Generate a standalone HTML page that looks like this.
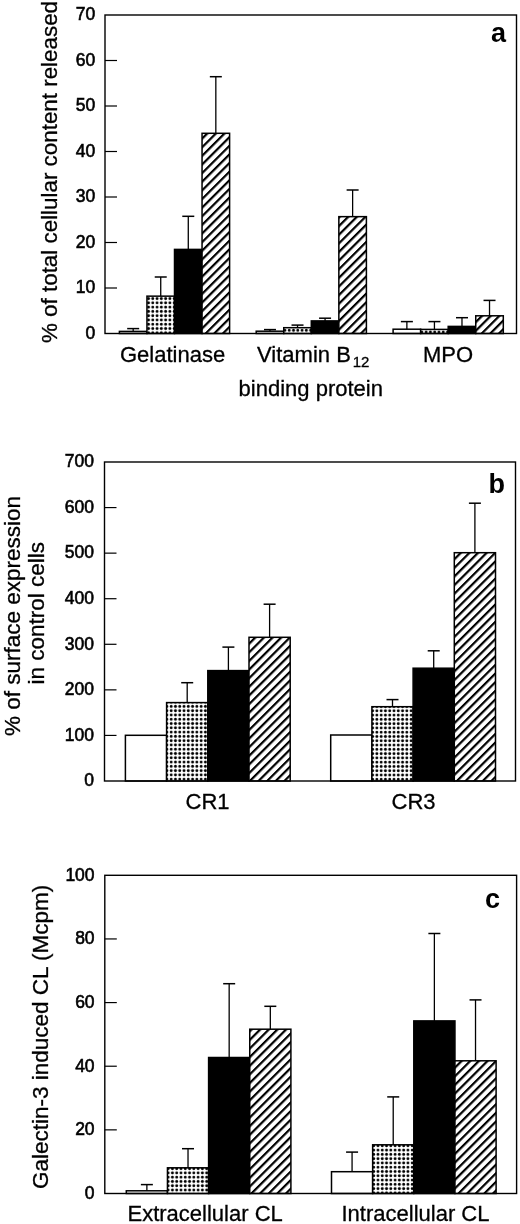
<!DOCTYPE html>
<html><head><meta charset="utf-8"><style>
html,body{margin:0;padding:0;background:#fff;}
body{width:520px;height:1224px;overflow:hidden;}
svg{display:block;will-change:transform;}
text{font-family:"Liberation Sans", sans-serif;fill:#000;stroke:#000;stroke-width:0.3px;}
.tk{stroke-width:0.6px;}
.lt{stroke-width:0;}
</style></head><body>
<svg width="520" height="1224" viewBox="0 0 520 1224">
<rect width="520" height="1224" fill="#fff"/>
<defs>
<pattern id="dots" patternUnits="userSpaceOnUse" width="4.28" height="4.28" x="0" y="0">
<circle cx="2.14" cy="2.14" r="1.45" fill="#000"/>
</pattern>
<pattern id="hatch" patternUnits="userSpaceOnUse" width="6.1" height="6.1" patternTransform="translate(2.75,0) rotate(45)">
<rect x="0" y="0" width="2.2" height="6.1" fill="#000"/>
</pattern>
</defs>
<rect x="119.4" y="331.4" width="27.55" height="2.1" fill="#fff" stroke="#000" stroke-width="1.5"/>
<line x1="133.18" y1="331.4" x2="133.18" y2="328.6" stroke="#000" stroke-width="1.3"/>
<line x1="127.18" y1="328.6" x2="139.18" y2="328.6" stroke="#000" stroke-width="1.5"/>
<pattern id="d1" patternUnits="userSpaceOnUse" width="4.28" height="4.28" x="146.36" y="296.41"><circle cx="2.14" cy="2.14" r="1.45" fill="#000"/></pattern>
<rect x="146.95" y="296.15" width="27.55" height="37.35" fill="#fff"/>
<rect x="146.95" y="296.15" width="27.55" height="37.35" fill="url(#d1)" stroke="#000" stroke-width="1.5"/>
<line x1="160.73" y1="296.15" x2="160.73" y2="277" stroke="#000" stroke-width="1.3"/>
<line x1="154.73" y1="277" x2="166.73" y2="277" stroke="#000" stroke-width="1.5"/>
<rect x="174.5" y="249.4" width="27.55" height="84.1" fill="#000" stroke="#000" stroke-width="1.5"/>
<line x1="188.28" y1="249.4" x2="188.28" y2="216.3" stroke="#000" stroke-width="1.3"/>
<line x1="182.28" y1="216.3" x2="194.28" y2="216.3" stroke="#000" stroke-width="1.5"/>
<rect x="202.05" y="133.3" width="27.55" height="200.2" fill="#fff"/>
<rect x="202.05" y="133.3" width="27.55" height="200.2" fill="url(#hatch)" stroke="#000" stroke-width="1.5"/>
<line x1="215.83" y1="133.3" x2="215.83" y2="76.7" stroke="#000" stroke-width="1.3"/>
<line x1="209.83" y1="76.7" x2="221.83" y2="76.7" stroke="#000" stroke-width="1.5"/>
<rect x="256.2" y="331.2" width="27.55" height="2.3" fill="#fff" stroke="#000" stroke-width="1.5"/>
<line x1="269.97" y1="331.2" x2="269.97" y2="329.6" stroke="#000" stroke-width="1.3"/>
<line x1="263.97" y1="329.6" x2="275.97" y2="329.6" stroke="#000" stroke-width="1.5"/>
<pattern id="d2" patternUnits="userSpaceOnUse" width="4.28" height="4.28" x="282.81" y="328.16"><circle cx="2.14" cy="2.14" r="1.45" fill="#000"/></pattern>
<rect x="283.75" y="327.7" width="27.55" height="5.8" fill="#fff"/>
<rect x="283.75" y="327.7" width="27.55" height="5.8" fill="url(#d2)" stroke="#000" stroke-width="1.5"/>
<line x1="297.52" y1="327.7" x2="297.52" y2="325.1" stroke="#000" stroke-width="1.3"/>
<line x1="291.52" y1="325.1" x2="303.52" y2="325.1" stroke="#000" stroke-width="1.5"/>
<rect x="311.3" y="320.9" width="27.55" height="12.6" fill="#000" stroke="#000" stroke-width="1.5"/>
<line x1="325.07" y1="320.9" x2="325.07" y2="318.2" stroke="#000" stroke-width="1.3"/>
<line x1="319.07" y1="318.2" x2="331.07" y2="318.2" stroke="#000" stroke-width="1.5"/>
<rect x="338.85" y="216.65" width="27.55" height="116.85" fill="#fff"/>
<rect x="338.85" y="216.65" width="27.55" height="116.85" fill="url(#hatch)" stroke="#000" stroke-width="1.5"/>
<line x1="352.62" y1="216.65" x2="352.62" y2="190" stroke="#000" stroke-width="1.3"/>
<line x1="346.62" y1="190" x2="358.62" y2="190" stroke="#000" stroke-width="1.5"/>
<rect x="393.1" y="329.2" width="27.55" height="4.3" fill="#fff" stroke="#000" stroke-width="1.5"/>
<line x1="406.88" y1="329.2" x2="406.88" y2="321.6" stroke="#000" stroke-width="1.3"/>
<line x1="400.88" y1="321.6" x2="412.88" y2="321.6" stroke="#000" stroke-width="1.5"/>
<pattern id="d3" patternUnits="userSpaceOnUse" width="4.28" height="4.28" x="419.71" y="329.86"><circle cx="2.14" cy="2.14" r="1.45" fill="#000"/></pattern>
<rect x="420.65" y="329.4" width="27.55" height="4.1" fill="#fff"/>
<rect x="420.65" y="329.4" width="27.55" height="4.1" fill="url(#d3)" stroke="#000" stroke-width="1.5"/>
<line x1="434.43" y1="329.4" x2="434.43" y2="321.6" stroke="#000" stroke-width="1.3"/>
<line x1="428.43" y1="321.6" x2="440.43" y2="321.6" stroke="#000" stroke-width="1.5"/>
<rect x="448.2" y="326.4" width="27.55" height="7.1" fill="#000" stroke="#000" stroke-width="1.5"/>
<line x1="461.98" y1="326.4" x2="461.98" y2="317.7" stroke="#000" stroke-width="1.3"/>
<line x1="455.98" y1="317.7" x2="467.98" y2="317.7" stroke="#000" stroke-width="1.5"/>
<rect x="475.75" y="315.8" width="27.55" height="17.7" fill="#fff"/>
<rect x="475.75" y="315.8" width="27.55" height="17.7" fill="url(#hatch)" stroke="#000" stroke-width="1.5"/>
<line x1="489.52" y1="315.8" x2="489.52" y2="300.4" stroke="#000" stroke-width="1.3"/>
<line x1="483.52" y1="300.4" x2="495.52" y2="300.4" stroke="#000" stroke-width="1.5"/>
<rect x="105" y="15" width="411.5" height="318.5" fill="none" stroke="#000" stroke-width="1.4"/>
<line x1="105" y1="288" x2="117" y2="288" stroke="#000" stroke-width="1.2"/>
<line x1="105" y1="242.5" x2="117" y2="242.5" stroke="#000" stroke-width="1.2"/>
<line x1="105" y1="197" x2="117" y2="197" stroke="#000" stroke-width="1.2"/>
<line x1="105" y1="151.5" x2="117" y2="151.5" stroke="#000" stroke-width="1.2"/>
<line x1="105" y1="106" x2="117" y2="106" stroke="#000" stroke-width="1.2"/>
<line x1="105" y1="60.5" x2="117" y2="60.5" stroke="#000" stroke-width="1.2"/>
<text x="95.2" y="338.8" text-anchor="end" font-size="17.5" class="tk">0</text>
<text x="95.2" y="293.3" text-anchor="end" font-size="17.5" class="tk">10</text>
<text x="95.2" y="247.8" text-anchor="end" font-size="17.5" class="tk">20</text>
<text x="95.2" y="202.3" text-anchor="end" font-size="17.5" class="tk">30</text>
<text x="95.2" y="156.8" text-anchor="end" font-size="17.5" class="tk">40</text>
<text x="95.2" y="111.3" text-anchor="end" font-size="17.5" class="tk">50</text>
<text x="95.2" y="65.8" text-anchor="end" font-size="17.5" class="tk">60</text>
<text x="95.2" y="20.3" text-anchor="end" font-size="17.5" class="tk">70</text>
<text x="491" y="42" font-size="27" font-weight="bold" class="lt">a</text>
<rect x="125.4" y="735.3" width="41.2" height="45.7" fill="#fff" stroke="#000" stroke-width="1.5"/>
<pattern id="d4" patternUnits="userSpaceOnUse" width="4.28" height="4.28" x="164.76" y="704.26"><circle cx="2.14" cy="2.14" r="1.45" fill="#000"/></pattern>
<rect x="166.6" y="702.6" width="41.2" height="78.4" fill="#fff"/>
<rect x="166.6" y="702.6" width="41.2" height="78.4" fill="url(#d4)" stroke="#000" stroke-width="1.5"/>
<line x1="187.2" y1="702.6" x2="187.2" y2="682.7" stroke="#000" stroke-width="1.3"/>
<line x1="181.2" y1="682.7" x2="193.2" y2="682.7" stroke="#000" stroke-width="1.5"/>
<rect x="207.8" y="670.6" width="41.2" height="110.4" fill="#000" stroke="#000" stroke-width="1.5"/>
<line x1="228.4" y1="670.6" x2="228.4" y2="647.1" stroke="#000" stroke-width="1.3"/>
<line x1="222.4" y1="647.1" x2="234.4" y2="647.1" stroke="#000" stroke-width="1.5"/>
<rect x="249" y="637.3" width="41.2" height="143.7" fill="#fff"/>
<rect x="249" y="637.3" width="41.2" height="143.7" fill="url(#hatch)" stroke="#000" stroke-width="1.5"/>
<line x1="269.6" y1="637.3" x2="269.6" y2="604.2" stroke="#000" stroke-width="1.3"/>
<line x1="263.6" y1="604.2" x2="275.6" y2="604.2" stroke="#000" stroke-width="1.5"/>
<rect x="330.7" y="735" width="41.2" height="46" fill="#fff" stroke="#000" stroke-width="1.5"/>
<pattern id="d5" patternUnits="userSpaceOnUse" width="4.28" height="4.28" x="370.46" y="708.66"><circle cx="2.14" cy="2.14" r="1.45" fill="#000"/></pattern>
<rect x="371.9" y="706.7" width="41.2" height="74.3" fill="#fff"/>
<rect x="371.9" y="706.7" width="41.2" height="74.3" fill="url(#d5)" stroke="#000" stroke-width="1.5"/>
<line x1="392.5" y1="706.7" x2="392.5" y2="699.6" stroke="#000" stroke-width="1.3"/>
<line x1="386.5" y1="699.6" x2="398.5" y2="699.6" stroke="#000" stroke-width="1.5"/>
<rect x="413.1" y="668.2" width="41.2" height="112.8" fill="#000" stroke="#000" stroke-width="1.5"/>
<line x1="433.7" y1="668.2" x2="433.7" y2="650.8" stroke="#000" stroke-width="1.3"/>
<line x1="427.7" y1="650.8" x2="439.7" y2="650.8" stroke="#000" stroke-width="1.5"/>
<rect x="454.3" y="552.7" width="41.2" height="228.3" fill="#fff"/>
<rect x="454.3" y="552.7" width="41.2" height="228.3" fill="url(#hatch)" stroke="#000" stroke-width="1.5"/>
<line x1="474.9" y1="552.7" x2="474.9" y2="503.2" stroke="#000" stroke-width="1.3"/>
<line x1="468.9" y1="503.2" x2="480.9" y2="503.2" stroke="#000" stroke-width="1.5"/>
<rect x="104.5" y="462" width="411" height="319" fill="none" stroke="#000" stroke-width="1.4"/>
<line x1="104.5" y1="735.43" x2="116.5" y2="735.43" stroke="#000" stroke-width="1.2"/>
<line x1="104.5" y1="689.86" x2="116.5" y2="689.86" stroke="#000" stroke-width="1.2"/>
<line x1="104.5" y1="644.29" x2="116.5" y2="644.29" stroke="#000" stroke-width="1.2"/>
<line x1="104.5" y1="598.71" x2="116.5" y2="598.71" stroke="#000" stroke-width="1.2"/>
<line x1="104.5" y1="553.14" x2="116.5" y2="553.14" stroke="#000" stroke-width="1.2"/>
<line x1="104.5" y1="507.57" x2="116.5" y2="507.57" stroke="#000" stroke-width="1.2"/>
<text x="94" y="786.3" text-anchor="end" font-size="17.5" class="tk">0</text>
<text x="94" y="740.73" text-anchor="end" font-size="17.5" class="tk">100</text>
<text x="94" y="695.16" text-anchor="end" font-size="17.5" class="tk">200</text>
<text x="94" y="649.59" text-anchor="end" font-size="17.5" class="tk">300</text>
<text x="94" y="604.01" text-anchor="end" font-size="17.5" class="tk">400</text>
<text x="94" y="558.44" text-anchor="end" font-size="17.5" class="tk">500</text>
<text x="94" y="512.87" text-anchor="end" font-size="17.5" class="tk">600</text>
<text x="94" y="467.3" text-anchor="end" font-size="17.5" class="tk">700</text>
<text x="488.5" y="493" font-size="27" font-weight="bold" class="lt">b</text>
<rect x="126.3" y="1190.8" width="41.15" height="2.7" fill="#fff" stroke="#000" stroke-width="1.5"/>
<line x1="146.88" y1="1190.8" x2="146.88" y2="1184.6" stroke="#000" stroke-width="1.3"/>
<line x1="140.88" y1="1184.6" x2="152.88" y2="1184.6" stroke="#000" stroke-width="1.5"/>
<pattern id="d6" patternUnits="userSpaceOnUse" width="4.28" height="4.28" x="166.01" y="1166.46"><circle cx="2.14" cy="2.14" r="1.45" fill="#000"/></pattern>
<rect x="167.45" y="1167.8" width="41.15" height="25.7" fill="#fff"/>
<rect x="167.45" y="1167.8" width="41.15" height="25.7" fill="url(#d6)" stroke="#000" stroke-width="1.5"/>
<line x1="188.02" y1="1167.8" x2="188.02" y2="1148.7" stroke="#000" stroke-width="1.3"/>
<line x1="182.02" y1="1148.7" x2="194.02" y2="1148.7" stroke="#000" stroke-width="1.5"/>
<rect x="208.6" y="1057.5" width="41.15" height="136" fill="#000" stroke="#000" stroke-width="1.5"/>
<line x1="229.17" y1="1057.5" x2="229.17" y2="983.7" stroke="#000" stroke-width="1.3"/>
<line x1="223.17" y1="983.7" x2="235.17" y2="983.7" stroke="#000" stroke-width="1.5"/>
<rect x="249.75" y="1029.2" width="41.15" height="164.3" fill="#fff"/>
<rect x="249.75" y="1029.2" width="41.15" height="164.3" fill="url(#hatch)" stroke="#000" stroke-width="1.5"/>
<line x1="270.32" y1="1029.2" x2="270.32" y2="1006.3" stroke="#000" stroke-width="1.3"/>
<line x1="264.32" y1="1006.3" x2="276.32" y2="1006.3" stroke="#000" stroke-width="1.5"/>
<rect x="331.5" y="1171.7" width="41.15" height="21.8" fill="#fff" stroke="#000" stroke-width="1.5"/>
<line x1="352.07" y1="1171.7" x2="352.07" y2="1152.1" stroke="#000" stroke-width="1.3"/>
<line x1="346.07" y1="1152.1" x2="358.07" y2="1152.1" stroke="#000" stroke-width="1.5"/>
<pattern id="d7" patternUnits="userSpaceOnUse" width="4.28" height="4.28" x="371.56" y="1143.66"><circle cx="2.14" cy="2.14" r="1.45" fill="#000"/></pattern>
<rect x="372.65" y="1144.8" width="41.15" height="48.7" fill="#fff"/>
<rect x="372.65" y="1144.8" width="41.15" height="48.7" fill="url(#d7)" stroke="#000" stroke-width="1.5"/>
<line x1="393.22" y1="1144.8" x2="393.22" y2="1096.9" stroke="#000" stroke-width="1.3"/>
<line x1="387.22" y1="1096.9" x2="399.22" y2="1096.9" stroke="#000" stroke-width="1.5"/>
<rect x="413.8" y="1020.9" width="41.15" height="172.6" fill="#000" stroke="#000" stroke-width="1.5"/>
<line x1="434.38" y1="1020.9" x2="434.38" y2="933.5" stroke="#000" stroke-width="1.3"/>
<line x1="428.38" y1="933.5" x2="440.38" y2="933.5" stroke="#000" stroke-width="1.5"/>
<rect x="454.95" y="1060.8" width="41.15" height="132.7" fill="#fff"/>
<rect x="454.95" y="1060.8" width="41.15" height="132.7" fill="url(#hatch)" stroke="#000" stroke-width="1.5"/>
<line x1="475.52" y1="1060.8" x2="475.52" y2="999.9" stroke="#000" stroke-width="1.3"/>
<line x1="469.52" y1="999.9" x2="481.52" y2="999.9" stroke="#000" stroke-width="1.5"/>
<rect x="104.8" y="875.3" width="411.8" height="318.2" fill="none" stroke="#000" stroke-width="1.4"/>
<line x1="104.8" y1="1129.86" x2="116.8" y2="1129.86" stroke="#000" stroke-width="1.2"/>
<line x1="104.8" y1="1066.22" x2="116.8" y2="1066.22" stroke="#000" stroke-width="1.2"/>
<line x1="104.8" y1="1002.58" x2="116.8" y2="1002.58" stroke="#000" stroke-width="1.2"/>
<line x1="104.8" y1="938.94" x2="116.8" y2="938.94" stroke="#000" stroke-width="1.2"/>
<text x="94.6" y="1198.8" text-anchor="end" font-size="17.5" class="tk">0</text>
<text x="94.6" y="1135.16" text-anchor="end" font-size="17.5" class="tk">20</text>
<text x="94.6" y="1071.52" text-anchor="end" font-size="17.5" class="tk">40</text>
<text x="94.6" y="1007.88" text-anchor="end" font-size="17.5" class="tk">60</text>
<text x="94.6" y="944.24" text-anchor="end" font-size="17.5" class="tk">80</text>
<text x="94.6" y="880.6" text-anchor="end" font-size="17.5" class="tk">100</text>
<text x="485" y="908" font-size="27" font-weight="bold" class="lt">c</text>
<text x="120" y="362" font-size="22">Gelatinase</text>
<text x="257.1" y="362" font-size="22">Vitamin B<tspan font-size="15" dx="1.8" dy="5.2">12</tspan></text>
<text x="238.6" y="395.5" font-size="22">binding protein</text>
<text x="423" y="362" font-size="22">MPO</text>
<text x="185.5" y="809" font-size="22">CR1</text>
<text x="391.5" y="809" font-size="22">CR3</text>
<text x="127.5" y="1221" font-size="22">Extracellular CL</text>
<text x="341.5" y="1221" font-size="22">Intracellular CL</text>
<text transform="translate(57.2,343) rotate(-90)" font-size="22.38">% of total cellular content released</text>
<text transform="translate(20,736) rotate(-90)" font-size="22.5">% of surface expression</text>
<text transform="translate(43.8,684.5) rotate(-90)" font-size="22.5">in control cells</text>
<text transform="translate(48.1,1189) rotate(-90)" font-size="22.5">Galectin-3 induced CL (Mcpm)</text>
</svg>
</body></html>
